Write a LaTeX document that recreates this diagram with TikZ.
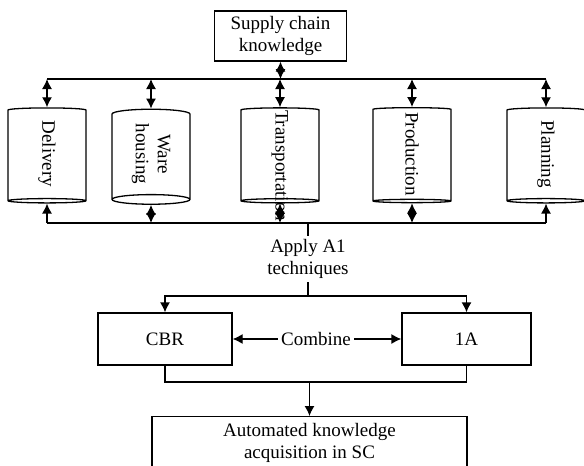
\documentclass[tikz,border=0pt]{standalone}
\usepackage{fontspec}
\setmainfont{Liberation Serif}
\usetikzlibrary{shapes.geometric,arrows.meta}

\begin{document}
\begin{tikzpicture}[x=1pt,y=-1pt,line width=1.3pt,>={Latex[length=10pt,width=10pt]},
        font=\fontsize{19}{22}\selectfont]
        % Styles
        \tikzstyle{box}=[draw,rectangle,inner sep=0pt,align=center]
        \tikzstyle{store}=[draw,cylinder,rotate=-90,shape aspect=0.25,
            minimum width=78pt,minimum height=95pt,inner sep=0pt,align=center]
        \tikzstyle{plain text}=[inner sep=3pt,align=center]
        \useasboundingbox (0,0) rectangle (584,466);
        \clip (0,0) rectangle (584,466);
        %knowledge and stores
        \node[box,minimum width=132pt,minimum height=50pt] (sck) at (280.5,36) {Supply chain\\knowledge};
        \coordinate (upbus) at (280,79);
        \coordinate (lowbus) at (308,223);
        \node[store] (del) at (47,154) {Delivery};
        \node[store] (ware) at (151,154) {Ware\\housing};
        \node[store] (trans) at (280,154) {\makebox[88pt][l]{Transportation}};
        \node[store] (prod) at (412,154) {Production};
        \node[store] (plan) at (546,154) {Planning};
        %buses
        \draw (del.west |- upbus) -- (plan.west |- upbus);
        \draw (del.east |- lowbus) -- (plan.east |- lowbus);
        \draw[<->] (sck.south) -- (sck.south |- upbus);
        \foreach \s in {del,ware,trans,prod,plan}
            \draw[<->] (\s.west |- upbus) -- (\s.west);
        \foreach \s in {ware,trans,prod}
            \draw[<->] (\s.east |- lowbus) -- (\s.east);
        \draw[->] (del.east |- lowbus) -- (del.east);
        \draw[->] (plan.east |- lowbus) -- (plan.east);
        %techniques
        \node[plain text] (apply) at (308,259) {Apply A1\\techniques};
        \coordinate (split) at (308,296);
        \node[box,minimum width=134pt,minimum height=52pt] (cbr) at (165,339) {CBR};
        \node[box,minimum width=129pt,minimum height=52pt] (ia) at (466.5,339) {1A};
        \node[plain text] (comb) at (316,339) {Combine};
        \draw (lowbus) -- (apply.north);
        \draw (apply.south) -- (split);
        \draw[->] (split) -| (cbr.north);
        \draw[->] (split) -| (ia.north);
        \draw[->] (comb) -- (cbr);
        \draw[->] (comb) -- (ia);
        %result
        \node[box,anchor=north,minimum width=315pt,inner sep=2pt,text height=40pt,text depth=60pt] (acq) at (309.5,416) {Automated knowledge\\acquisition in SC};
        \coordinate (merge) at (309.5,382);
        \draw (cbr.south) |- (merge) -| (ia.south);
        \draw[->] (merge) -- (acq.north);
    \end{tikzpicture}
\end{document}
